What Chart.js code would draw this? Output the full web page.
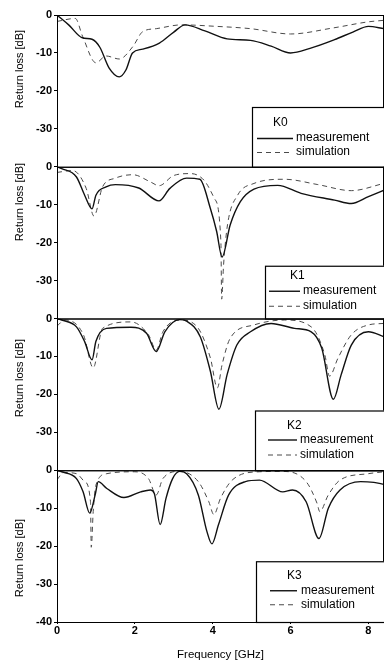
<!DOCTYPE html>
<html>
<head>
<meta charset="utf-8">
<script src="https://cdn.jsdelivr.net/npm/chart.js@4"></script>
<style>
  html, body { margin: 0; padding: 0; background: #fff; }
  #wrap { width: 384px; height: 662px; }
</style>
</head>
<body>
<div id="wrap"><canvas id="myChart" width="384" height="662"></canvas></div>
<script>
// panels (top to bottom)
var panelNames = ['K0', 'K1', 'K2', 'K3'];
var seriesNames = ['measurement', 'simulation'];
var xTicks = [0, 2, 4, 6, 8];
var yTicks = [0, -10, -20, -30, -40];

// K0
var k0MeasFreq = [0, 0.3, 0.65, 0.9, 1.1, 1.34, 1.6, 1.77, 1.94, 2.2, 2.63, 3.0, 3.29, 3.8, 4.37, 4.97, 5.5, 6.0, 6.5, 7.13, 7.6, 8.0, 8.4];
var k0MeasDb = [0, -2.6, -6, -6.4, -8.5, -14, -16.3, -14.5, -10, -9, -7.4, -4.5, -2.6, -4.2, -6.3, -6.7, -8.2, -10, -8.8, -6.5, -4.5, -3, -3.6];
var k0SimFreq = [0, 0.47, 0.66, 1.0, 1.26, 1.6, 1.95, 2.2, 2.55, 3.2, 4.1, 4.97, 6.0, 7.1, 8.0, 8.4];
var k0SimDb = [-1.7, -0.9, -5.7, -12.6, -10.8, -11.6, -8.3, -4.4, -3.6, -2.6, -3, -3.6, -5, -3.4, -1.8, -1.4];

// K1
var k1MeasFreq = [0, 0.12, 0.5, 0.71, 0.9, 1.0, 1.26, 1.5, 2.1, 2.62, 2.9, 3.33, 3.67, 3.94, 4.1, 4.24, 4.45, 4.71, 5.06, 5.67, 6.27, 7.13, 7.56, 8.0, 8.4];
var k1MeasDb = [0, -0.5, -2.7, -7.5, -11.1, -7.5, -5.3, -4.7, -5.6, -9, -5.7, -3.0, -3.3, -11, -17, -23.8, -15.3, -9.2, -5.9, -4.9, -7, -8.8, -9.7, -7.9, -6.2];
var k1SimFreq = [0, 0.4, 0.75, 0.95, 1.17, 1.5, 1.95, 2.4, 2.62, 3.0, 3.43, 3.78, 4.04, 4.21, 4.23, 4.28, 4.38, 4.64, 5.06, 5.84, 6.7, 7.56, 8.4];
var k1SimDb = [-1.5, -1, -5.7, -13, -5.3, -3, -2.1, -4, -5, -2.3, -1.8, -3.6, -8.3, -19.7, -34.9, -25.7, -15.3, -7.5, -4.4, -3.3, -4.7, -6.3, -4.4];

// K2
var k2MeasFreq = [0, 0.12, 0.5, 0.71, 0.9, 1.0, 1.27, 1.9, 2.3, 2.55, 2.77, 3.15, 3.33, 3.68, 3.94, 4.16, 4.37, 4.62, 4.97, 5.5, 6.1, 6.53, 6.8, 7.1, 7.3, 7.56, 8.0, 8.4];
var k2MeasDb = [0, -0.4, -2.2, -6.1, -10.9, -6, -2.6, -2.3, -3.9, -8.7, -3.5, -0.3, -0.7, -4.8, -13.9, -23.9, -14.8, -7, -3.5, -1.3, -2.6, -3.5, -7.8, -21.3, -14.8, -7, -3.5, -4.8];
var k2SimFreq = [0, 0.2, 0.68, 0.93, 1.17, 1.9, 2.35, 2.55, 2.72, 3.15, 3.6, 3.94, 4.12, 4.24, 4.45, 5.06, 5.84, 6.53, 6.88, 7.0, 7.22, 7.56, 8.0, 8.4];
var k2SimDb = [-2, -0.4, -4.3, -13, -2.6, -0.9, -4.3, -8.3, -3.5, -0.4, -2.2, -10.4, -18.3, -12.2, -5.2, -1.7, -0.4, -2.2, -9.6, -15.2, -10.4, -4.3, -1.7, -1.3];

// K3
var k3MeasFreq = [0, 0.12, 0.5, 0.67, 0.84, 0.98, 1.06, 1.28, 1.72, 2.15, 2.4, 2.5, 2.65, 2.8, 2.97, 3.15, 3.33, 3.63, 3.85, 3.98, 4.15, 4.41, 4.84, 5.2, 5.8, 6.05, 6.4, 6.73, 6.97, 7.27, 7.8, 8.14, 8.4];
var k3MeasDb = [0, -0.4, -2.2, -5.7, -11.3, -6.5, -3, -4.8, -7.2, -5.7, -5.2, -6.1, -14.3, -7.4, -2.2, -0.3, -0.9, -6.5, -16.1, -19.4, -14.3, -6.5, -3, -2.6, -5.7, -5.2, -8.3, -18, -10, -5.2, -3, -3.2, -3.7];
var k3SimFreq = [0, 0.17, 0.5, 0.71, 0.86, 0.88, 0.93, 1.0, 1.28, 2.0, 2.35, 2.55, 2.72, 3.15, 3.63, 3.9, 4.03, 4.2, 4.5, 5.2, 5.8, 6.4, 6.68, 6.75, 6.97, 7.27, 8.0, 8.4];
var k3SimDb = [-2.5, -0.6, -0.9, -3, -8.3, -20.3, -10.9, -3.9, -0.9, -0.4, -2.2, -6.5, -2.2, -0.3, -3, -8.3, -11.7, -7.4, -2.6, -0.4, -0.3, -3, -8.7, -10.9, -6.5, -2.6, -0.9, -0.4];

var measFreq = [k0MeasFreq, k1MeasFreq, k2MeasFreq, k3MeasFreq];
var measDb = [k0MeasDb, k1MeasDb, k2MeasDb, k3MeasDb];
var simFreq = [k0SimFreq, k1SimFreq, k2SimFreq, k3SimFreq];
var simDb = [k0SimDb, k1SimDb, k2SimDb, k3SimDb];

// legend box layout per panel (pixels, relative to panel top)
var legendLayout = [
  {box: 252, top: 92, k: 273, l0: 257, l1: 293, tx: 296, ky: 108, my: 123, sy: 137},
  {box: 265, top: 99, k: 290, l0: 269, l1: 300, tx: 303, ky: 109, my: 124, sy: 139},
  {box: 255, top: 92, k: 287, l0: 268, l1: 297, tx: 300, ky: 107, my: 121, sy: 136},
  {box: 256, top: 91, k: 287, l0: 270, l1: 297, tx: 301, ky: 105, my: 120, sy: 134}
];
var titleCenters = [69, 202, 378, 558];

function pts(fs, vs) {
  return fs.map(function (f, i) { return {x: f, y: vs[i]}; });
}

var datasets = [];
var scales = {
  x: {
    type: 'linear', min: 0, max: 8.4,
    afterBuildTicks: function (s) { s.ticks = xTicks.map(function (v) { return {value: v}; }); },
    afterFit: function (s) { s.height = 40; },
    border: {display: true, color: '#000', width: 1},
    grid: {drawOnChartArea: false, drawTicks: true, tickLength: 2, color: '#000'},
    ticks: {color: '#000', padding: 0, font: {family: 'Liberation Sans', size: 11, weight: 'bold'}},
    title: {display: true, text: 'Frequency [GHz]', color: '#000', padding: {top: 0, bottom: 0},
            font: {family: 'Liberation Sans', size: 11.5}}
  }
};

for (var p = 0; p < 4; p++) {
  var id = 'y' + p;
  datasets.push({
    label: seriesNames[0], yAxisID: id, data: pts(measFreq[p], measDb[p]),
    borderColor: '#111', borderWidth: 1.4, pointRadius: 0, fill: false,
    cubicInterpolationMode: 'monotone'
  });
  datasets.push({
    label: seriesNames[1], yAxisID: id, data: pts(simFreq[p], simDb[p]),
    borderColor: '#4a4a4a', borderWidth: 1, borderDash: [5, 4], pointRadius: 0, fill: false,
    cubicInterpolationMode: 'monotone'
  });
  scales[id] = {
    type: 'linear', position: 'left', stack: 'panels', stackWeight: 1, weight: 4 - p,
    min: -40, max: 0,
    afterBuildTicks: function (s) { s.ticks = yTicks.map(function (v) { return {value: v}; }); },
    afterFit: function (s) { s.width = 57; },
    border: {display: true, color: '#000', width: 1},
    grid: {drawOnChartArea: false, drawTicks: true, tickLength: 3, color: '#000'},
    ticks: {
      color: '#000', padding: 2,
      font: {family: 'Liberation Sans', size: 11, weight: 'bold'},
      callback: (function (last) {
        return function (v) { return (!last && v === -40) ? '' : v; };
      })(p === 3)
    }
  };
}

var panelPlugin = {
  id: 'panels',
  afterDatasetsDraw: function (chart) {
    var ctx = chart.ctx;
    var area = chart.chartArea;
    ctx.save();
    for (var p = 0; p < 4; p++) {
      var sc = chart.scales['y' + p];
      var L = legendLayout[p];
      // panel frame
      ctx.strokeStyle = '#000';
      ctx.lineWidth = 1;
      ctx.strokeRect(area.left + 0.5, sc.top + 0.5, area.right - area.left - 1, sc.bottom - sc.top);
      // legend box
      var bt = sc.top + L.top;
      ctx.fillStyle = '#fff';
      ctx.fillRect(L.box, bt, area.right - L.box + 5, sc.bottom - bt);
      ctx.lineWidth = 1.2;
      ctx.strokeRect(L.box + 0.5, bt + 0.5, area.right - L.box + 5, sc.bottom - bt);
      ctx.fillStyle = '#000';
      ctx.font = '12px "Liberation Sans"';
      ctx.textBaseline = 'middle';
      ctx.textAlign = 'left';
      ctx.fillText(panelNames[p], L.k, sc.top + L.ky);
      ctx.beginPath();
      ctx.lineWidth = 1.4;
      ctx.strokeStyle = '#111';
      ctx.moveTo(L.l0, sc.top + L.my + 0.5);
      ctx.lineTo(L.l1, sc.top + L.my + 0.5);
      ctx.stroke();
      ctx.beginPath();
      ctx.lineWidth = 1;
      ctx.strokeStyle = '#4a4a4a';
      ctx.setLineDash([5, 4]);
      ctx.moveTo(L.l0, sc.top + L.sy + 0.5);
      ctx.lineTo(L.l1, sc.top + L.sy + 0.5);
      ctx.stroke();
      ctx.setLineDash([]);
      ctx.fillText(seriesNames[0], L.tx, sc.top + L.my);
      ctx.fillText(seriesNames[1], L.tx, sc.top + L.sy);
      // axis title
      ctx.save();
      ctx.translate(20, titleCenters[p]);
      ctx.rotate(-Math.PI / 2);
      ctx.textAlign = 'center';
      ctx.font = '11px "Liberation Sans"';
      ctx.fillText('Return loss [dB]', 0, 0);
      ctx.restore();
    }
    ctx.restore();
  }
};

const config = {
  type: 'line',
  data: {datasets: datasets},
  options: {
    responsive: false,
    animation: false,
    layout: {padding: {top: 15, right: 0, left: 0, bottom: 0}},
    plugins: {legend: {display: false}, tooltip: {enabled: false}},
    scales: scales
  },
  plugins: [panelPlugin]
};

const myChart = new Chart(document.getElementById('myChart'), config);
</script>
</body>
</html>
